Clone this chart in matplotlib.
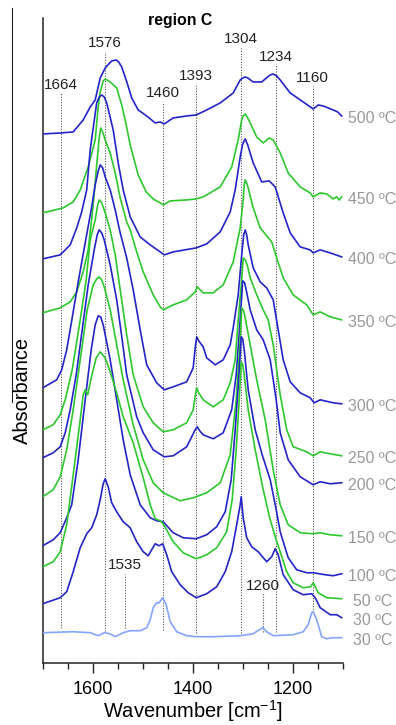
import matplotlib
matplotlib.use("Agg")
import matplotlib.pyplot as plt
from matplotlib.ticker import MultipleLocator, FixedLocator
from matplotlib.transforms import blended_transform_factory

plt.rcParams['font.family'] = ['Liberation Sans', 'DejaVu Sans']
plt.rcParams['mathtext.fontset'] = 'custom'
plt.rcParams['mathtext.rm'] = 'Liberation Sans'
plt.rcParams['mathtext.default'] = 'rm'

# stacked IR spectra, wavenumber in cm-1, absorbance in a.u. (offset per temperature)
wn_500 = [1700, 1664, 1639, 1619, 1605, 1595, 1585, 1575, 1568, 1562, 1553, 1548, 1542, 1533, 1522, 1509,
          1492, 1475, 1465, 1457, 1439, 1412, 1393, 1372, 1345, 1319, 1305, 1300, 1295, 1290, 1279, 1262,
          1250, 1245, 1239, 1232, 1225, 1205, 1179, 1159, 1149, 1139, 1129, 1119, 1110, 1102]
ab_500 = [5.29, 5.30, 5.31, 5.43, 5.56, 5.63, 5.85, 5.95, 5.99, 6.02, 6.03, 6.01, 5.96, 5.83, 5.65, 5.53,
          5.47, 5.40, 5.41, 5.39, 5.45, 5.47, 5.48, 5.53, 5.60, 5.70, 5.83, 5.85, 5.86, 5.85, 5.81, 5.81,
          5.86, 5.88, 5.89, 5.87, 5.83, 5.70, 5.61, 5.54, 5.58, 5.57, 5.55, 5.53, 5.51, 5.47]

wn_450 = [1700, 1659, 1639, 1625, 1609, 1595, 1589, 1585, 1579, 1575, 1565, 1552, 1542, 1535, 1525, 1509,
          1493, 1479, 1465, 1459, 1445, 1412, 1393, 1379, 1345, 1322, 1309, 1302, 1299, 1295, 1291, 1285,
          1272, 1259, 1247, 1239, 1225, 1209, 1185, 1165, 1159, 1145, 1132, 1119, 1112, 1107, 1102]
ab_450 = [4.50, 4.55, 4.61, 4.73, 4.96, 5.23, 5.56, 5.71, 5.82, 5.84, 5.81, 5.75, 5.58, 5.43, 5.18, 4.88,
          4.71, 4.64, 4.60, 4.58, 4.62, 4.63, 4.64, 4.66, 4.76, 4.96, 5.23, 5.43, 5.47, 5.49, 5.46, 5.40,
          5.26, 5.20, 5.25, 5.23, 5.10, 4.90, 4.76, 4.70, 4.66, 4.70, 4.69, 4.64, 4.66, 4.63, 4.66]

wn_400 = [1700, 1665, 1645, 1632, 1622, 1612, 1605, 1599, 1592, 1587, 1582, 1577, 1572, 1559, 1549, 1539,
          1525, 1505, 1485, 1465, 1457, 1439, 1393, 1372, 1345, 1325, 1315, 1305, 1300, 1295, 1290, 1279,
          1262, 1247, 1235, 1219, 1205, 1185, 1165, 1159, 1145, 1125, 1102]
ab_400 = [4.04, 4.08, 4.18, 4.35, 4.51, 4.73, 5.13, 5.35, 5.60, 5.66, 5.68, 5.66, 5.60, 5.33, 5.00, 4.73,
          4.46, 4.26, 4.18, 4.11, 4.08, 4.11, 4.15, 4.19, 4.31, 4.51, 4.73, 5.06, 5.19, 5.24, 5.18, 5.00,
          4.81, 4.82, 4.76, 4.50, 4.30, 4.16, 4.13, 4.10, 4.13, 4.10, 4.06]

wn_350 = [1700, 1665, 1645, 1632, 1619, 1609, 1599, 1592, 1587, 1584, 1580, 1575, 1565, 1555, 1545, 1532,
          1525, 1512, 1499, 1479, 1465, 1459, 1439, 1412, 1395, 1391, 1379, 1359, 1339, 1319, 1305, 1299,
          1297, 1295, 1292, 1289, 1279, 1265, 1252, 1242, 1232, 1219, 1199, 1172, 1159, 1145, 1125, 1102]
ab_350 = [3.50, 3.55, 3.61, 3.71, 3.91, 4.13, 4.58, 4.98, 5.25, 5.35, 5.31, 5.23, 5.10, 4.90, 4.65, 4.41,
          4.33, 4.11, 3.91, 3.68, 3.56, 3.53, 3.58, 3.63, 3.71, 3.76, 3.70, 3.70, 3.78, 4.01, 4.35, 4.63,
          4.78, 4.83, 4.80, 4.75, 4.55, 4.35, 4.27, 4.21, 4.05, 3.85, 3.68, 3.58, 3.48, 3.51, 3.46, 3.43]

wn_300 = [1700, 1672, 1662, 1652, 1641, 1629, 1615, 1602, 1595, 1589, 1585, 1580, 1575, 1565, 1555, 1545,
          1532, 1519, 1505, 1492, 1472, 1457, 1439, 1412, 1399, 1395, 1392, 1388, 1379, 1372, 1355, 1339,
          1325, 1319, 1309, 1302, 1298, 1295, 1292, 1289, 1279, 1265, 1252, 1239, 1229, 1219, 1205, 1185,
          1165, 1157, 1145, 1119, 1102]
ab_300 = [2.75, 2.83, 2.93, 3.13, 3.45, 3.81, 4.20, 4.56, 4.78, 4.92, 4.98, 4.95, 4.86, 4.73, 4.53, 4.30,
          4.05, 3.73, 3.33, 2.98, 2.80, 2.73, 2.76, 2.81, 2.95, 3.15, 3.26, 3.22, 3.16, 3.05, 2.98, 3.03,
          3.18, 3.35, 3.68, 4.08, 4.28, 4.33, 4.28, 4.18, 3.95, 3.81, 3.75, 3.63, 3.33, 3.03, 2.81, 2.70,
          2.65, 2.60, 2.63, 2.60, 2.59]

wn_250 = [1700, 1679, 1665, 1655, 1641, 1625, 1613, 1605, 1595, 1590, 1587, 1582, 1575, 1565, 1555, 1545,
          1532, 1519, 1499, 1479, 1459, 1439, 1412, 1399, 1394, 1392, 1388, 1379, 1359, 1339, 1325, 1315,
          1309, 1302, 1299, 1295, 1291, 1285, 1272, 1259, 1249, 1239, 1225, 1212, 1199, 1172, 1159, 1145,
          1125, 1102]
ab_250 = [2.33, 2.38, 2.48, 2.63, 2.93, 3.43, 3.83, 4.23, 4.43, 4.58, 4.63, 4.60, 4.50, 4.33, 4.08, 3.73,
          3.28, 2.88, 2.56, 2.40, 2.31, 2.33, 2.40, 2.53, 2.70, 2.75, 2.70, 2.63, 2.56, 2.63, 2.80, 3.03,
          3.43, 3.83, 4.05, 4.03, 3.98, 3.85, 3.68, 3.53, 3.43, 3.18, 2.68, 2.33, 2.16, 2.11, 2.07, 2.11,
          2.09, 2.07]

wn_200 = [1700, 1679, 1665, 1655, 1645, 1633, 1621, 1609, 1597, 1591, 1587, 1582, 1577, 1565, 1552, 1541,
          1532, 1512, 1499, 1479, 1457, 1439, 1412, 1395, 1391, 1386, 1379, 1359, 1339, 1322, 1313, 1305,
          1300, 1296, 1293, 1285, 1272, 1259, 1245, 1233, 1225, 1209, 1185, 1159, 1145, 1125, 1102]
ab_200 = [2.05, 2.10, 2.16, 2.30, 2.53, 2.88, 3.33, 3.78, 4.13, 4.28, 4.33, 4.30, 4.23, 3.98, 3.63, 3.23,
          2.88, 2.46, 2.30, 2.13, 2.06, 2.07, 2.16, 2.33, 2.36, 2.32, 2.28, 2.24, 2.30, 2.53, 2.88, 3.43,
          3.82, 3.80, 3.73, 3.53, 3.33, 3.23, 3.03, 2.63, 2.30, 2.03, 1.86, 1.78, 1.81, 1.79, 1.80]

wn_150 = [1700, 1679, 1665, 1652, 1639, 1625, 1611, 1599, 1592, 1587, 1582, 1577, 1565, 1552, 1539, 1519,
          1499, 1479, 1459, 1425, 1399, 1372, 1345, 1325, 1313, 1305, 1302, 1298, 1295, 1285, 1272, 1255,
          1239, 1225, 1209, 1185, 1159, 1145, 1125, 1102]
ab_150 = [1.66, 1.73, 1.86, 2.13, 2.53, 3.03, 3.53, 3.78, 3.84, 3.86, 3.83, 3.76, 3.53, 3.18, 2.83, 2.38,
          2.03, 1.80, 1.70, 1.62, 1.65, 1.70, 1.80, 2.08, 2.63, 3.23, 3.55, 3.52, 3.45, 3.18, 2.83, 2.43,
          1.93, 1.58, 1.38, 1.30, 1.29, 1.30, 1.28, 1.27]

wn_100 = [1700, 1679, 1665, 1652, 1642, 1629, 1615, 1603, 1595, 1589, 1584, 1579, 1565, 1552, 1539, 1525,
          1505, 1485, 1472, 1459, 1439, 1419, 1393, 1372, 1352, 1335, 1323, 1315, 1308, 1303, 1300, 1297,
          1289, 1275, 1261, 1245, 1233, 1225, 1209, 1192, 1172, 1159, 1135, 1119, 1102]
ab_100 = [1.17, 1.23, 1.30, 1.45, 1.58, 2.03, 2.63, 3.13, 3.38, 3.47, 3.46, 3.38, 3.03, 2.63, 2.23, 1.88,
          1.58, 1.45, 1.42, 1.41, 1.30, 1.25, 1.24, 1.28, 1.36, 1.51, 1.83, 2.33, 2.83, 3.26, 3.24, 3.13,
          2.73, 2.33, 2.08, 1.83, 1.53, 1.31, 1.05, 0.93, 0.90, 0.90, 0.88, 0.87, 0.89]

wn_50 = [1700, 1679, 1665, 1652, 1639, 1625, 1619, 1615, 1610, 1603, 1593, 1585, 1575, 1565, 1552, 1539,
         1519, 1499, 1485, 1475, 1465, 1459, 1439, 1419, 1393, 1372, 1352, 1332, 1321, 1313, 1307, 1303,
         1300, 1297, 1289, 1275, 1259, 1245, 1233, 1225, 1212, 1199, 1179, 1164, 1159, 1149, 1132, 1102]
ab_50 = [0.96, 1.01, 1.11, 1.38, 1.88, 2.43, 2.68, 2.73, 2.68, 2.85, 3.05, 3.11, 3.05, 2.91, 2.70, 2.46,
         2.20, 1.85, 1.58, 1.44, 1.42, 1.39, 1.21, 1.10, 1.04, 1.08, 1.15, 1.31, 1.63, 2.13, 2.63, 3.01,
         2.98, 2.88, 2.53, 2.13, 1.73, 1.43, 1.23, 1.11, 0.91, 0.80, 0.75, 0.76, 0.80, 0.70, 0.65, 0.64]

wn_30 = [1700, 1665, 1652, 1639, 1625, 1612, 1602, 1592, 1585, 1579, 1575, 1569, 1562, 1552, 1539, 1525,
         1512, 1499, 1489, 1475, 1467, 1460, 1452, 1442, 1425, 1409, 1393, 1372, 1352, 1335, 1322, 1312,
         1305, 1303, 1299, 1292, 1282, 1269, 1252, 1242, 1235, 1229, 1219, 1199, 1179, 1162, 1155, 1145,
         1125, 1112, 1102]
ab_30 = [0.59, 0.65, 0.71, 0.91, 1.15, 1.29, 1.35, 1.48, 1.63, 1.79, 1.84, 1.76, 1.60, 1.51, 1.41, 1.35,
         1.21, 1.11, 1.07, 1.19, 1.17, 1.19, 1.08, 0.91, 0.78, 0.70, 0.65, 0.69, 0.76, 0.91, 1.11, 1.38,
         1.58, 1.66, 1.45, 1.25, 1.16, 1.11, 1.01, 1.06, 1.14, 1.08, 0.88, 0.73, 0.68, 0.69, 0.65, 0.55,
         0.48, 0.48, 0.45]

# reference spectrum at 30 ºC (light trace at the bottom)
wn_ref = [1700, 1639, 1605, 1589, 1577, 1566, 1555, 1539, 1525, 1505, 1492, 1485, 1479, 1472, 1467, 1460,
          1453, 1445, 1432, 1412, 1392, 1359, 1305, 1279, 1267, 1260, 1252, 1239, 1199, 1179, 1169, 1162,
          1159, 1152, 1142, 1132, 1119, 1102]
ab_ref = [0.30, 0.31, 0.30, 0.27, 0.30, 0.29, 0.26, 0.30, 0.32, 0.32, 0.35, 0.43, 0.55, 0.60, 0.60, 0.65,
          0.58, 0.41, 0.31, 0.27, 0.26, 0.26, 0.27, 0.29, 0.33, 0.35, 0.31, 0.27, 0.28, 0.31, 0.38, 0.50,
          0.51, 0.43, 0.26, 0.24, 0.25, 0.25]

temps = ['500 ºC', '450 ºC', '400 ºC', '350 ºC', '300 ºC', '250 ºC',
         '200 ºC', '150 ºC', '100 ºC', '50 ºC', '30 ºC', '30 ºC']
spectra = [(wn_500, ab_500), (wn_450, ab_450), (wn_400, ab_400), (wn_350, ab_350),
           (wn_300, ab_300), (wn_250, ab_250), (wn_200, ab_200), (wn_150, ab_150),
           (wn_100, ab_100), (wn_50, ab_50), (wn_30, ab_30), (wn_ref, ab_ref)]

# marked bands
peaks = [1664, 1576, 1535, 1460, 1393, 1304, 1260, 1234, 1160]

BLUE = '#2424c8'
GREEN = '#2ec82e'
LIGHT = '#84a4ff'

fig = plt.figure(figsize=(3.96, 7.25), dpi=100)
ax = fig.add_axes([42.7 / 396, 1 - 662.7 / 725, 300 / 396, 644.7 / 725])

# label height / line top / line bottom for each band marker
label_y = [5.78, 6.20, 0.98, 5.70, 5.87, 6.24, 0.77, 6.06, 5.85]
line_top = [5.70, 6.11, 0.89, 5.61, 5.78, 6.16, 0.70, 5.98, 5.77]
line_bot = [0.35, 0.32, 0.35, 0.33, 0.30, 0.30, 0.31, 0.31, 0.51]
for p, ly, lt, lb in zip(peaks, label_y, line_top, line_bot):
    ax.plot([p, p], [lb, lt], color='#555555', lw=0.8, ls=(0, (1, 1.4)), zorder=1)
    ax.text(p, ly, str(p), ha='center', va='center', fontsize=11, color='#222222')

lbl_tr = blended_transform_factory(ax.transAxes, ax.transData)
for i, ((w, a), t) in enumerate(zip(spectra, temps)):
    if i == len(spectra) - 1:
        col = LIGHT
    else:
        col = BLUE if i % 2 == 0 else GREEN
    ax.plot(w, a, color=col, lw=1.2, zorder=3, solid_joinstyle='round')
    ax.text(1.099, a[-1] - 0.03, t, transform=lbl_tr, ha='center', va='center',
            fontsize=11.4, color='#999999', clip_on=False)

ax.set_xlim(1700, 1100)
ax.set_ylim(0, 6.45)
ax.xaxis.set_major_locator(FixedLocator([1600, 1400, 1200]))
ax.xaxis.set_minor_locator(MultipleLocator(50))
ax.tick_params(axis='x', which='major', length=7.5, width=1.0, pad=6, labelsize=13, color='#222222')
ax.tick_params(axis='x', which='minor', length=4, width=1.0, color='#222222')
ax.set_yticks([])
for s in ['top', 'right']:
    ax.spines[s].set_visible(False)
for s in ['left', 'bottom']:
    ax.spines[s].set_linewidth(1.1)
    ax.spines[s].set_color('#222222')

ax.set_xlabel('Wavenumber [cm$^{-1}$]', fontsize=14.4, labelpad=0)
fig.text(22.5 / 396, 1 - 390 / 725, 'Absorbance', rotation=90, ha='center', va='center', fontsize=14.4)
fig.text(180 / 396, 1 - 20 / 725, 'region C', ha='center', va='center', fontsize=11.4, fontweight='bold')
fig.add_artist(plt.Line2D([12 / 396, 12 / 396], [1 - 8 / 725, 1 - 402 / 725], color='#222222', lw=0.8))

fig.savefig('out.png', dpi=100)
